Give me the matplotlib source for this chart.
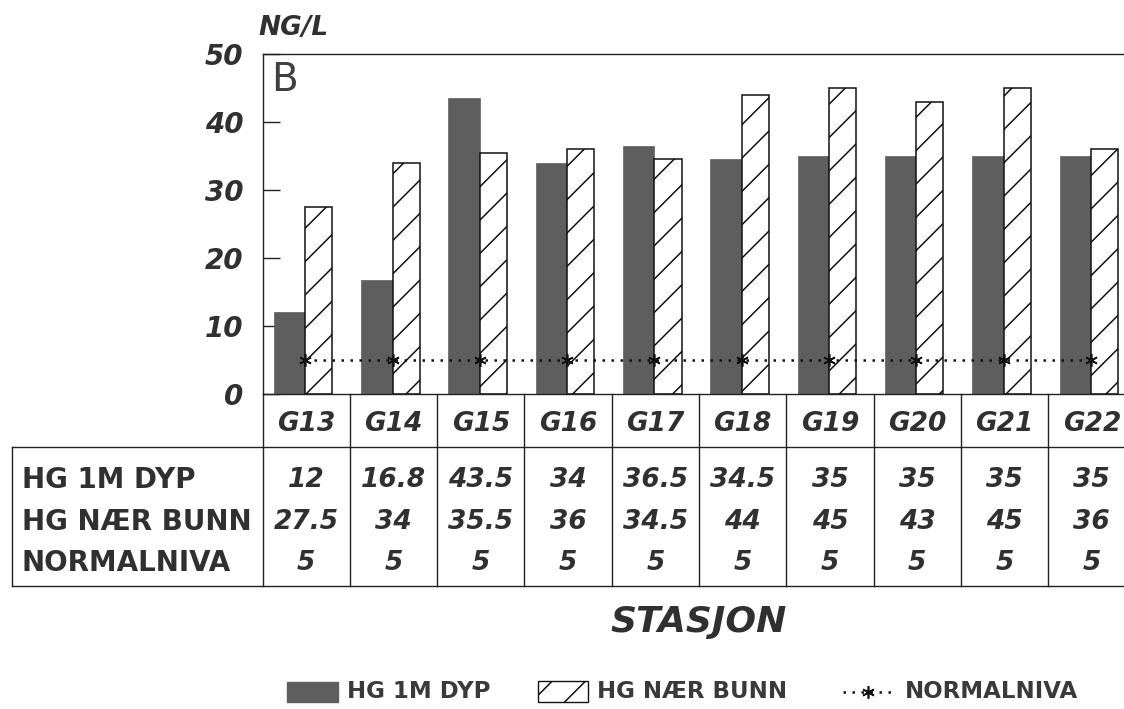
import numpy as np
import matplotlib
matplotlib.use('Agg')
import matplotlib.pyplot as plt
from matplotlib.transforms import blended_transform_factory
from matplotlib.patches import Rectangle
from matplotlib.lines import Line2D

# data
stations = ['G13', 'G14', 'G15', 'G16', 'G17', 'G18', 'G19', 'G20', 'G21', 'G22']
hg_1m_dyp = [12, 16.8, 43.5, 34, 36.5, 34.5, 35, 35, 35, 35]
hg_naer_bunn = [27.5, 34, 35.5, 36, 34.5, 44, 45, 43, 45, 36]
normalniva = [5, 5, 5, 5, 5, 5, 5, 5, 5, 5]
row_labels = ['HG 1M DYP', 'HG NÆR BUNN', 'NORMALNIVA']
y_ticks = [0, 10, 20, 30, 40, 50]

W, H = 1124, 709
TXT = '#303030'
DARK = '#5e5e5e'
plt.rcParams['font.family'] = 'DejaVu Sans'
plt.rcParams['hatch.linewidth'] = 1.1


def fx(px):
    return px / W


def fy(py):
    return 1 - py / H


fig = plt.figure(figsize=(W / 100, H / 100), dpi=100)
ax = fig.add_axes([fx(262.5), fy(394), 873 / W, 340 / H])

x = np.arange(len(stations))
ax.bar(x - 0.01, hg_1m_dyp, width=-0.36, align='edge', color=DARK, edgecolor=DARK, linewidth=0.5, zorder=2)
ax.bar(x - 0.01, hg_naer_bunn, width=0.31, align='edge', color='white', edgecolor='#111111',
       hatch='/', linewidth=1.1, zorder=2)
ax.plot(x - 0.01, normalniva, linestyle=(0, (1, 2.6)), color='#111111', lw=1.8,
        marker=(6, 2, 0), markersize=9, markeredgewidth=1.2, zorder=3)

ax.set_xlim(-0.5, 9.5)
ax.set_ylim(0, 50)
ax.set_xticks([])
ax.set_yticks(y_ticks)
ax.set_yticklabels([str(t) for t in y_ticks], fontsize=20, fontweight='bold', fontstyle='italic', color=TXT)
ax.tick_params(axis='y', direction='in', length=12, width=1, pad=14, color='#222222')
ax.spines['right'].set_visible(False)
for s in ['top', 'left', 'bottom']:
    ax.spines[s].set_color('#222222')
    ax.spines[s].set_linewidth(1)

ax.text(fx(271), fy(80), 'B', transform=fig.transFigure, fontsize=28, color='#404040',
        ha='left', va='center')
fig.text(fx(258), fy(28), 'NG/L', fontsize=19, fontweight='bold', fontstyle='italic',
         color=TXT, ha='left', va='center')

# category row and table underneath
trans = blended_transform_factory(ax.transData, fig.transFigure)
for k in range(len(stations) + 1):
    ax.plot([k - 0.5, k - 0.5], [fy(394), fy(586)], transform=trans, color='#222222',
            lw=1, clip_on=False)
for i, name in enumerate(stations):
    ax.text(i, fy(424), name, transform=trans, ha='center', va='center', fontsize=19,
            fontweight='bold', fontstyle='italic', color=TXT)

fig.add_artist(Line2D([fx(12), 1], [fy(447), fy(447)], transform=fig.transFigure, color='#222222', lw=1))
fig.add_artist(Line2D([fx(12), 1], [fy(586), fy(586)], transform=fig.transFigure, color='#222222', lw=1))
fig.add_artist(Line2D([fx(12), fx(12)], [fy(447), fy(586)], transform=fig.transFigure, color='#222222', lw=1))

row_y = [480, 522, 563]
series = [hg_1m_dyp, hg_naer_bunn, normalniva]
for label, vals, py in zip(row_labels, series, row_y):
    fig.text(fx(22), fy(py), label, ha='left', va='center', fontsize=20, fontweight='bold', color=TXT)
    for i, v in enumerate(vals):
        ax.text(i, fy(py), f'{v:g}', transform=trans, ha='center', va='center', fontsize=19,
                fontweight='bold', fontstyle='italic', color=TXT)

fig.text(fx(699), fy(622), 'STASJON', ha='center', va='center', fontsize=26, fontweight='bold',
         fontstyle='italic', color=TXT)

# legend
LEG = '#3a3a3a'
fig.add_artist(Rectangle((fx(287), fy(702)), 51 / W, 20 / H, transform=fig.transFigure,
                         facecolor=DARK, edgecolor=DARK))
fig.text(fx(347), fy(692), 'HG 1M DYP', ha='left', va='center', fontsize=16.5, fontweight='bold', color=LEG)
fig.add_artist(Rectangle((fx(538), fy(702)), 50 / W, 21 / H, transform=fig.transFigure,
                         facecolor='white', edgecolor='#111111', hatch='/', lw=1))
fig.text(fx(597), fy(692), 'HG NÆR BUNN', ha='left', va='center', fontsize=16.5, fontweight='bold', color=LEG)
fig.add_artist(Line2D([fx(843), fx(892)], [fy(692), fy(692)], transform=fig.transFigure,
                      linestyle=(0, (1, 2.6)), color='#111111', lw=1.8))
fig.add_artist(Line2D([fx(868)], [fy(692)], transform=fig.transFigure, marker=(6, 2, 0),
                      markersize=9, markeredgewidth=1.2, color='#111111', linestyle='none'))
fig.text(fx(905), fy(692), 'NORMALNIVA', ha='left', va='center', fontsize=16.5, fontweight='bold', color=LEG)

fig.savefig('out.png', dpi=100)
